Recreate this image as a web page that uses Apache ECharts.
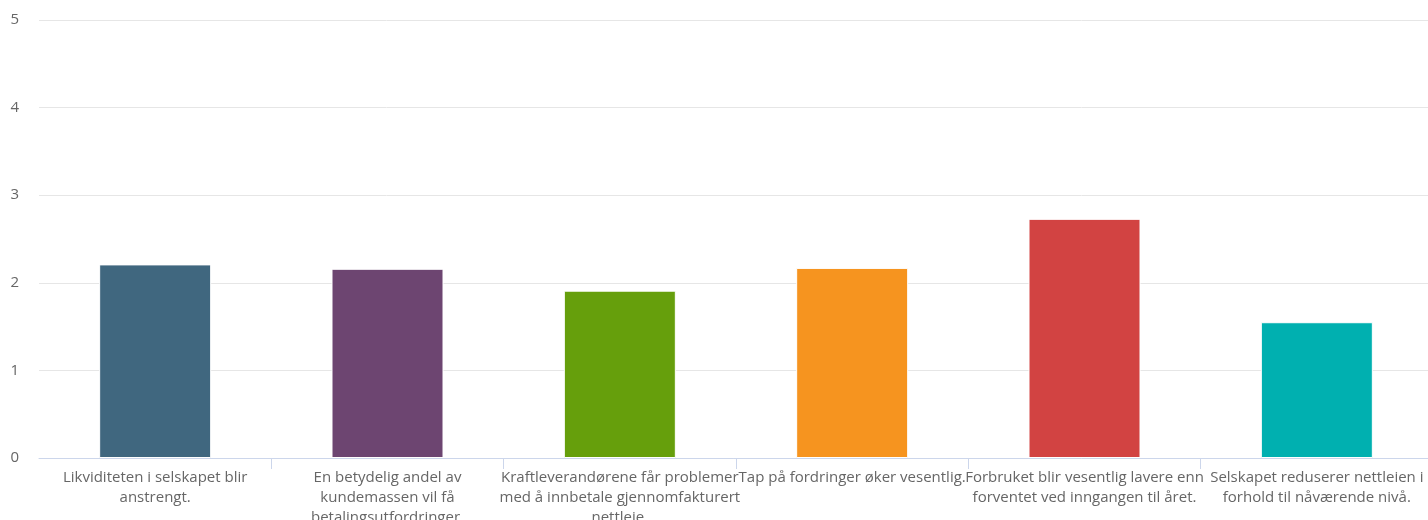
<!DOCTYPE html>
<html>
<head>
<meta charset="utf-8">
<script src="https://cdn.jsdelivr.net/npm/echarts@6/dist/echarts.min.js"></script>
<style>
html,body{margin:0;padding:0;background:#fff;overflow:hidden;}
#chart{width:1428px;height:520px;}
</style>
</head>
<body>
<div id="chart"></div>
<script>
const categories = [
  "Likviditeten i selskapet blir\nanstrengt.",
  "En betydelig andel av\nkundemassen vil få\nbetalingsutfordringer.",
  "Kraftleverandørene får problemer\nmed å innbetale gjennomfakturert\nnettleie.",
  "Tap på fordringer øker vesentlig.",
  "Forbruket blir vesentlig lavere enn\nforventet ved inngangen til året.",
  "Selskapet reduserer nettleien i\nforhold til nåværende nivå."
];
const values = [2.21, 2.16, 1.91, 2.17, 2.73, 1.55];
const colors = ["#40677f", "#6d4571", "#669f0c", "#f6941f", "#d24342", "#00b0b0"];
const yTicks = [0, 1, 2, 3, 4, 5];

const chart = echarts.init(document.getElementById('chart'));
chart.setOption({
  animation: false,
  grid: {left: 39, right: -5, top: 20, bottom: 62, containLabel: false, outerBoundsMode: 'none'},
  xAxis: {
    type: 'category',
    data: categories,
    axisLine: {lineStyle: {color: '#ccd6eb', width: 1}},
    axisTick: {show: true, length: 11, lineStyle: {color: '#ccd6eb'}, interval: (i) => i !== 0},
    axisLabel: {
      interval: 0, color: '#666666', fontFamily: 'Open Sans', fontSize: 15,
      lineHeight: 20, margin: 10, hideOverlap: false
    }
  },
  yAxis: {
    type: 'value', min: 0, max: 5, interval: 1,
    axisLine: {show: false}, axisTick: {show: false},
    splitLine: {lineStyle: {color: '#e6e6e6', width: 1}},
    axisLabel: {
      color: '#666666', fontFamily: 'Open Sans', fontSize: 15, margin: 20,
      formatter: v => yTicks.includes(v) ? String(v) : ''
    }
  },
  series: [{
    type: 'bar',
    barWidth: 112,
    data: values.map((v, i) => ({value: v, itemStyle: {color: colors[i]}})),
    itemStyle: {borderColor: '#ffffff', borderWidth: 1}
  }]
});
</script>
</body>
</html>
